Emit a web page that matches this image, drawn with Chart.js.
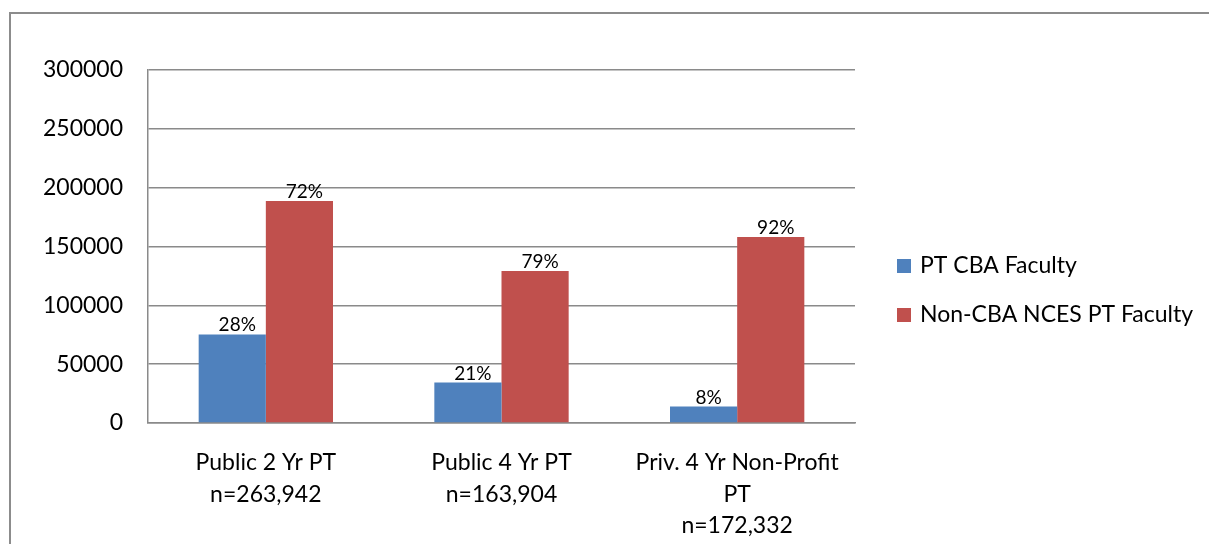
<!DOCTYPE html>
<html>
<head>
<meta charset="utf-8">
<script src="https://cdn.jsdelivr.net/npm/chart.js@4.4.0/dist/chart.umd.min.js"></script>
<style>
  html, body { margin: 0; padding: 0; background: #fff; }
  #wrap { position: relative; width: 1209px; height: 544px; overflow: hidden; }
  #frame { position: absolute; left: 9px; top: 12px; width: 1300px; height: 600px; border: 2px solid #8c8c8c; box-sizing: border-box; }
  canvas { position: absolute; left: 0; top: 0; }
</style>
</head>
<body>
<div id="wrap">
  <div id="frame"></div>
  <canvas id="c" width="1209" height="544"></canvas>
</div>
<script>
const categories = [
  ['Public 2 Yr PT', 'n=263,942'],
  ['Public 4 Yr PT', 'n=163,904'],
  ['Priv. 4 Yr Non-Profit', 'PT', 'n=172,332']
];
const seriesNames = ['PT CBA Faculty', 'Non-CBA NCES PT Faculty'];
const cbaValues = [75300, 34400, 14000];
const nonCbaValues = [188700, 129100, 158100];
const cbaPctLabels = ['28%', '21%', '8%'];
const nonCbaPctLabels = ['72%', '79%', '92%'];
const yTicks = [0, 50000, 100000, 150000, 200000, 250000, 300000];

const FONT = 'Lato, "Open Sans", "DejaVu Sans", sans-serif';
const BLUE = '#4F81BD';
const RED = '#C0504D';
const GRID = '#8a8a8a';

const pctLabelPlugin = {
  id: 'pctLabels',
  afterDatasetsDraw(chart) {
    const ctx = chart.ctx;
    ctx.save();
    ctx.font = '19px ' + FONT;
    ctx.fillStyle = '#000';
    ctx.textAlign = 'center';
    ctx.textBaseline = 'alphabetic';
    chart.data.datasets.forEach((ds, di) => {
      const meta = chart.getDatasetMeta(di);
      meta.data.forEach((bar, i) => {
        ctx.fillText(ds.pctLabels[i], bar.x + 5, bar.y - 3);
      });
    });
    ctx.restore();
  }
};

const legendPlugin = {
  id: 'customLegend',
  afterDraw(chart) {
    const ctx = chart.ctx;
    ctx.save();
    ctx.font = '23px ' + FONT;
    ctx.textBaseline = 'middle';
    ctx.textAlign = 'left';
    const x0 = chart.chartArea.right + 42;
    const yc = (chart.chartArea.top + chart.chartArea.bottom) / 2;
    const gap = 49;
    chart.data.datasets.forEach((ds, i) => {
      const y = yc + (i - 0.5) * gap + 44;
      ctx.fillStyle = ds.backgroundColor;
      ctx.fillRect(x0, y - 7, 14, 14);
      ctx.fillStyle = '#000';
      ctx.fillText(ds.label, x0 + 23, y);
    });
    ctx.restore();
  }
};

new Chart(document.getElementById('c'), {
  type: 'bar',
  data: {
    labels: categories,
    datasets: [
      { label: seriesNames[0], data: cbaValues, pctLabels: cbaPctLabels, backgroundColor: BLUE },
      { label: seriesNames[1], data: nonCbaValues, pctLabels: nonCbaPctLabels, backgroundColor: RED }
    ]
  },
  options: {
    responsive: false,
    animation: false,
    devicePixelRatio: 1,
    layout: { padding: { left: 0, right: 354, top: 70, bottom: 0 } },
    datasets: { bar: { categoryPercentage: 0.57, barPercentage: 1.0 } },
    plugins: { legend: { display: false }, tooltip: { enabled: false } },
    scales: {
      x: {
        grid: { display: false, drawTicks: false },
        border: { display: true, color: GRID, width: 1.5 },
        ticks: { color: '#000', font: { family: FONT, size: 23, lineHeight: 1.37 }, padding: 24, maxRotation: 0, autoSkip: false },
        afterFit(scale) { scale.height = 121; }
      },
      y: {
        min: 0, max: 300000,
        afterBuildTicks(scale) { scale.ticks = yTicks.map(v => ({ value: v })); },
        grid: { color: GRID, lineWidth: 1.5, drawTicks: false },
        border: { display: true, color: GRID, width: 1.5 },
        ticks: { color: '#000', font: { family: FONT, size: 23 }, padding: 25, callback: v => String(v) },
        afterFit(scale) { scale.width = 148; }
      }
    }
  },
  plugins: [pctLabelPlugin, legendPlugin]
});
</script>
</body>
</html>
